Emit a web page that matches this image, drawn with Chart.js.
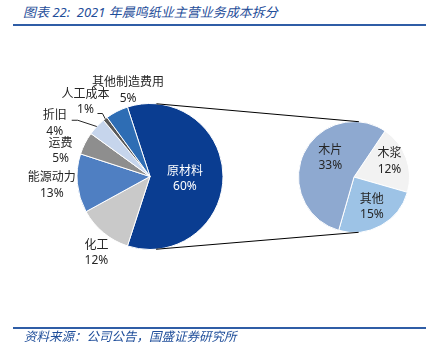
<!DOCTYPE html>
<html><head><meta charset="utf-8">
<script src="https://cdn.jsdelivr.net/npm/chart.js@4/dist/chart.umd.min.js"></script>
<style>
html,body{margin:0;padding:0;background:#fff;}
#wrap{position:relative;width:433px;height:354px;overflow:hidden;background:#fff;}
canvas{position:absolute;left:0;top:0;}
.title{position:absolute;left:23px;top:3px;font:italic 13px "Noto Sans","Noto Sans CJK SC",sans-serif;color:#1F4E9A;white-space:nowrap;line-height:18px;}
.rule{position:absolute;left:13px;width:413px;height:2px;background:#2F5DA6;}
.src{position:absolute;left:24px;top:329px;font:italic 12.5px "Noto Sans","Noto Sans CJK SC",sans-serif;color:#1F4E9A;white-space:nowrap;line-height:16px;}
</style></head>
<body>
<div id="wrap">
  <div class="title">图表 22:&nbsp; 2021 年晨鸣纸业主营业务成本拆分</div>
  <div class="rule" style="top:24px"></div>
  <canvas id="c1" width="433" height="354"></canvas>
  <canvas id="c2" width="433" height="354"></canvas>
  <div class="rule" style="top:327px"></div>
  <div class="src">资料来源：公司公告，国盛证券研究所</div>
</div>
<script>
// ---- data ----
const mainLabels = ['原材料','化工','能源动力','运费','折旧','人工成本','其他制造费用'];
const mainValues = [60,12,13,5,4,1,5];
const subLabels = ['木浆','其他','木片'];
const subValues = [12,15,33];

// ---- styles / layout ----
const mainColors = ['#0A3D91','#C9C9C9','#4F7FC2','#8E8E8E','#C6D5EC','#595959','#2E6DB4'];
const subColors = ['#F2F2F2','#9DC3E6','#8EA9D0'];
const mainLabelPos = [ // angle (deg, clockwise from top), radius factor
  {a:94,f:0.48,color:'#fff'},
  {a:215,f:1.28},
  {a:264.8,f:1.35},
  {a:286.1,f:1.275},
  {a:299.2,f:1.495,leader:{dx:17,dy:-3,elbow:6}},
  {a:319.1,f:1.35,leader:{dx:12,dy:11.5,elbow:5}},
  {a:345.7,f:1.215}
];
const subLabelPos = [
  {a:66,f:0.70},
  {a:149,f:0.625},
  {a:309,f:0.55}
];

function fmtPct(v){ return v + '%'; }

function makeLabelPlugin(labels, values, pos){
  return {
    id:'sliceLabels',
    afterDatasetsDraw(chart){
      const ctx = chart.ctx;
      const arcs = chart.getDatasetMeta(0).data;
      const total = values.reduce((a,b)=>a+b,0);
      ctx.save();
      ctx.font = '12px "Noto Sans","Noto Sans CJK SC",sans-serif';
      ctx.textAlign = 'center';
      ctx.textBaseline = 'middle';
      arcs.forEach((arc,i)=>{
        const p = pos[i];
        const r = arc.outerRadius;
        const th = p.a*Math.PI/180;
        const x = arc.x + r*p.f*Math.sin(th);
        const y = arc.y - r*p.f*Math.cos(th);
        ctx.fillStyle = p.color || '#262626';
        ctx.fillText(labels[i], x, y-7.5);
        ctx.fillText(fmtPct(Math.round(values[i]/total*100*(total===100?1:total/100))), x, y+8);
        if (p.leader){
          const mid = (arc.startAngle+arc.endAngle)/2;
          const ex = arc.x + r*Math.cos(mid);
          const ey = arc.y + r*Math.sin(mid);
          const sx = x + p.leader.dx, sy = y + p.leader.dy;
          ctx.strokeStyle = '#262626';
          ctx.lineWidth = 1;
          ctx.beginPath();
          ctx.moveTo(sx, sy);
          ctx.lineTo(sx + p.leader.elbow, sy);
          ctx.lineTo(ex, ey);
          ctx.stroke();
        }
      });
      ctx.restore();
    }
  };
}

const commonOpts = {
  responsive:false,
  animation:false,
  events:[],
  plugins:{legend:{display:false}, tooltip:{enabled:false}}
};

const c1 = new Chart(document.getElementById('c1'), {
  type:'pie',
  data:{labels:mainLabels, datasets:[{data:mainValues, backgroundColor:mainColors, borderColor:'#fff', borderWidth:1}]},
  options:Object.assign({}, commonOpts, {
    rotation:-18,
    layout:{padding:{left:76,right:209,top:103,bottom:104}}
  }),
  plugins:[makeLabelPlugin(mainLabels, mainValues, mainLabelPos)]
});

const connector = {
  id:'connector',
  afterDraw(chart){
    const a = c1.getDatasetMeta(0).data[0];
    const b = chart.getDatasetMeta(0).data[0];
    const dx = b.x - a.x, dy = b.y - a.y;
    const d = Math.hypot(dx, dy);
    const ux = dx/d, uy = dy/d;
    const vx = uy, vy = -ux;
    const s = (a.outerRadius - b.outerRadius)/d;
    const c = Math.sqrt(1 - s*s);
    const ctx = chart.ctx;
    ctx.save();
    ctx.strokeStyle = '#000';
    ctx.lineWidth = 1;
    [1,-1].forEach(sg=>{
      const nx = s*ux + sg*c*vx, ny = s*uy + sg*c*vy;
      ctx.beginPath();
      ctx.moveTo(a.x + a.outerRadius*nx, a.y + a.outerRadius*ny);
      ctx.lineTo(b.x + b.outerRadius*nx, b.y + b.outerRadius*ny);
      ctx.stroke();
    });
    ctx.restore();
  }
};

const c2 = new Chart(document.getElementById('c2'), {
  type:'pie',
  data:{labels:subLabels, datasets:[{data:subValues, backgroundColor:subColors, borderColor:'#fff', borderWidth:1}]},
  options:Object.assign({}, commonOpts, {
    rotation:34,
    layout:{padding:{left:298,right:23,top:121,bottom:121}}
  }),
  plugins:[makeLabelPlugin(subLabels, subValues, subLabelPos), connector]
});
</script>
</body></html>
